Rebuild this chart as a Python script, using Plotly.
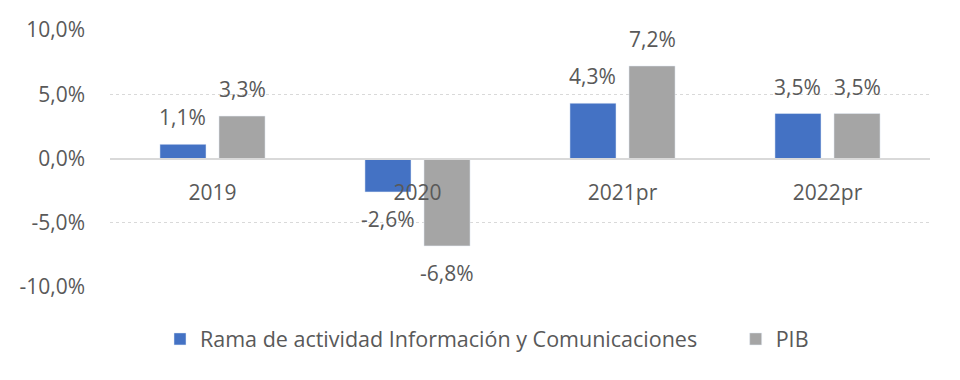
import plotly.graph_objects as go

categories = ["2019", "2020", "2021pr", "2022pr"]
rama_values = [1.1, -2.6, 4.3, 3.5]
pib_values = [3.3, -6.8, 7.2, 3.5]
series_names = ["Rama de actividad Información y Comunicaciones", "PIB"]
y_ticks = [-10, -5, 0, 5, 10]

FONT = "Open Sans"
TXT = "#595959"
SIZE = 21

def fmt(v):
    return f"{v:.1f}".replace(".", ",") + "%"

fig = go.Figure()
fig.add_trace(go.Bar(
    x=categories, y=rama_values, name=series_names[0] + "\u00a0" * 6,
    marker=dict(color="#4472C4"), hoverinfo="skip",
))
fig.add_trace(go.Bar(
    x=categories, y=pib_values, name=series_names[1],
    marker=dict(color="#A5A5A5"), hoverinfo="skip",
))

# data labels placed like Excel's "outside end"
plot_w = 960 - 110 - 30
cat_w = plot_w / len(categories)
bargap = 0.424
slot = cat_w * (1 - bargap) / 2
for vals, sign in ((rama_values, -1), (pib_values, 1)):
    for i, v in enumerate(vals):
        fig.add_annotation(
            x=i, y=v, text=fmt(v), showarrow=False,
            xshift=sign * slot / 2, yshift=27 if v >= 0 else -27,
            yanchor="middle", xanchor="center",
            font=dict(family=FONT, size=SIZE, color=TXT),
        )

fig.update_layout(
    width=960, height=380,
    margin=dict(l=110, r=30, t=30, b=93, autoexpand=False),
    paper_bgcolor="white", plot_bgcolor="white",
    barmode="group", bargap=bargap, bargroupgap=0.22,
    font=dict(family=FONT, size=SIZE, color=TXT),
    showlegend=True,
    legend=dict(orientation="h", xref="container", yref="container",
                x=160 / 960, xanchor="left", y=0.108, yanchor="middle",
                font=dict(family=FONT, size=21.5, color=TXT),
                itemwidth=30, tracegroupgap=0),
)
fig.update_yaxes(
    range=[-10, 10], tickvals=y_ticks, ticktext=[fmt(t) for t in y_ticks],
    showgrid=True, gridcolor="#D9D9D9", griddash="dot", gridwidth=1.3,
    zeroline=False, showline=False, ticks="", ticklabelstandoff=24,
    tickfont=dict(family=FONT, size=SIZE, color=TXT),
)
fig.update_xaxes(
    type="category", categoryorder="array", categoryarray=categories,
    range=[-0.5, len(categories) - 0.5],
    anchor="free", position=0.5, showline=True, linecolor="#D9D9D9", linewidth=2,
    showgrid=False, ticks="", ticklabelstandoff=15,
    tickfont=dict(family=FONT, size=SIZE, color=TXT),
)

fig.write_html("out.html")
